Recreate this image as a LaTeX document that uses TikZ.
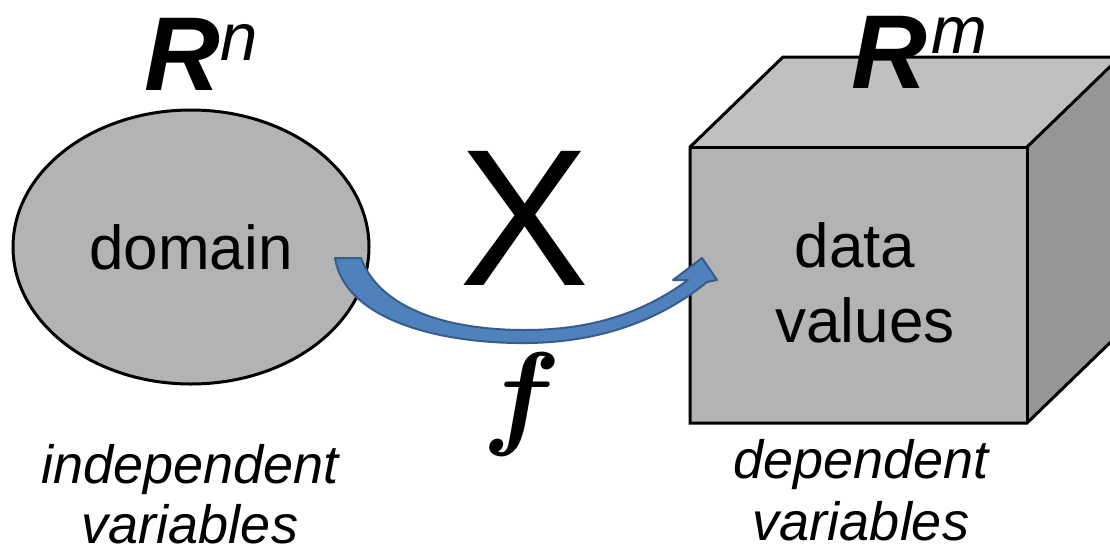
\RequirePackage{fix-cm}
\documentclass[tikz,border=0pt]{standalone}
\usepackage{fontspec}
\usepackage{amsmath}
\setmainfont{Liberation Sans}
\usetikzlibrary{shapes.geometric}
\definecolor{shapegray}{RGB}{179,179,179}
\definecolor{topgray}{RGB}{192,192,192}
\definecolor{sidegray}{RGB}{150,150,150}
\definecolor{arrowfill}{RGB}{79,129,189}
\definecolor{arrowline}{RGB}{56,93,138}
\tikzset{
  outline/.style={draw=black, line width=3pt, line join=miter},
  txt/.style={inner sep=0pt, outer sep=0pt, text=black},
  bigR/.style={txt, font=\fontsize{105}{105}\selectfont\bfseries\itshape},
  supr/.style={txt, font=\fontsize{67}{67}\selectfont\itshape},
  inlabel/.style={txt, font=\fontsize{62}{62}\selectfont},
  sublabel/.style={txt, font=\fontsize{54}{54}\selectfont\itshape},
}
\begin{document}
\begin{tikzpicture}[x=1pt, y=-1pt]
\useasboundingbox (0,0) rectangle (1110,554);
\fill[white] (0,0) rectangle (1110,554);

% domain ellipse
\node[ellipse, outline, fill=shapegray, minimum width=356pt, minimum height=274pt, inner sep=0pt] (dom) at (191,247) {};
\node[inlabel] (domtxt) at (191,247) {domain};

% cube
\begin{scope}
\clip (0,0) rectangle (1110,554);
\coordinate (fa) at (690,147);
\coordinate (fb) at (1027,147);
\coordinate (fc) at (1027,423);
\coordinate (fd) at (690,423);
\coordinate (ba) at (783,57);
\coordinate (bb) at (1120,57);
\coordinate (bc) at (1120,333);
\fill[topgray] (fa) -- (ba) -- (bb) -- (fb) -- cycle;
\fill[sidegray] (fb) -- (bb) -- (bc) -- (fc) -- cycle;
\fill[shapegray] (fa) -- (fb) -- (fc) -- (fd) -- cycle;
\draw[outline] (fa) -- (ba) -- (bb) -- (bc) -- (fc) -- (fd) -- cycle;
\draw[outline] (fa) -- (fb) -- (fc);
\draw[outline] (fb) -- (bb);
\end{scope}
\node[inlabel, anchor=base] (data1) at (855,267) {data};
\node[inlabel, anchor=base] (data2) at (865,342) {values};

% R^n and R^m
\node[bigR, anchor=base west] (Rn) at (144,90) {R};
\node[supr, anchor=base west] (n) at (220,60) {n};
\node[bigR, anchor=base west] (Rm) at (851,88) {R};
\node[supr, anchor=base west] (m) at (931,53) {m};

% X
\node[txt, font=\fontsize{195}{195}\selectfont, anchor=base] (X) at (525,285) {X};

% curved arrow
\coordinate (s1) at (335,258);
\coordinate (s2) at (361,258);
\coordinate (nkout) at (707,282);
\coordinate (barbR) at (717,280);
\coordinate (tip) at (702,258);
\coordinate (barbL) at (673,280);
\coordinate (nkin) at (688,280);
\fill[arrowfill, draw=arrowline, line width=2pt, line join=round]
  (s1) .. controls (345,320) and (440,344) .. (528,343)
       .. controls (610,342) and (668,314) .. (nkout)
  -- (barbR) -- (tip) -- (barbL) -- (nkin)
       .. controls (650,308) and (600,330) .. (525,330)
       .. controls (440,330) and (378,305) .. (s2)
  -- cycle;

% f
\node[txt, font=\fontsize{116}{116}\selectfont, anchor=base] (f) at (522,433) {$\boldsymbol{f}$};

% bottom labels
\node[sublabel, anchor=base] (ind1) at (190,483) {independent};
\node[sublabel, anchor=base] (ind2) at (190,543) {variables};
\node[sublabel, anchor=base] (dep1) at (861,478) {dependent};
\node[sublabel, anchor=base] (dep2) at (861,540) {variables};
\end{tikzpicture}
\end{document}
